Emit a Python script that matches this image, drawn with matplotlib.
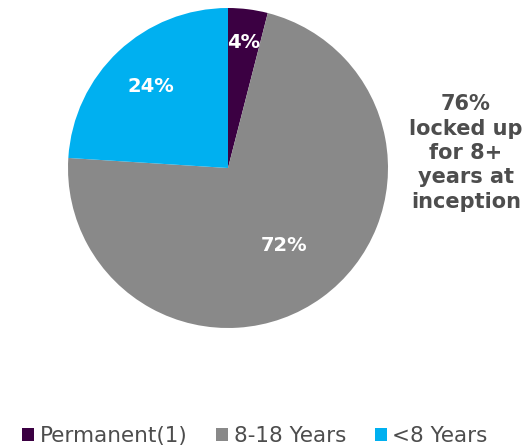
import numpy as np
import matplotlib
matplotlib.use("Agg")
import matplotlib.pyplot as plt
from matplotlib.patches import Patch

categories = ["Permanent(1)", "8-18 Years", "<8 Years"]
shares = [4, 72, 24]
colors = ["#3B0042", "#898989", "#00B0F0"]
label_radius = [0.79, 0.60, 0.70]
note = "76%\nlocked up\nfor 8+\nyears at\ninception"

W, H = 526, 447
fig = plt.figure(figsize=(W / 100, H / 100), dpi=100)
fig.patch.set_facecolor("white")

cx, cy, r = 228, 168, 160
ax = fig.add_axes([(cx - r) / W, (H - cy - r) / H, 2 * r / W, 2 * r / H])
wedges, _ = ax.pie(shares, colors=colors, startangle=90, counterclock=False,
                   radius=1, wedgeprops=dict(linewidth=0))
ax.set_xlim(-1, 1)
ax.set_ylim(-1, 1)
ax.axis("off")

for w, v, rd in zip(wedges, shares, label_radius):
    ang = np.deg2rad((w.theta1 + w.theta2) / 2)
    ax.text(rd * np.cos(ang), rd * np.sin(ang), f"{v}%", ha="center", va="center",
            color="white", fontsize=14, fontweight="bold", family="DejaVu Sans")

fig.text(466 / W, 1 - 153 / H, note, ha="center", va="center", color="#4D4D4D",
         fontsize=15, fontweight="bold", linespacing=1.27, family="DejaVu Sans")

handles = [Patch(facecolor=c, edgecolor="none") for c in colors]
fig.legend(handles, categories, loc="center", bbox_to_anchor=(0.485, 1 - 436 / H),
           ncol=3, frameon=False, fontsize=15.5, handlelength=0.55, handleheight=0.55,
           handletextpad=0.25, columnspacing=1.35, labelcolor="#4D4D4D")

fig.savefig("out.png", dpi=100)
